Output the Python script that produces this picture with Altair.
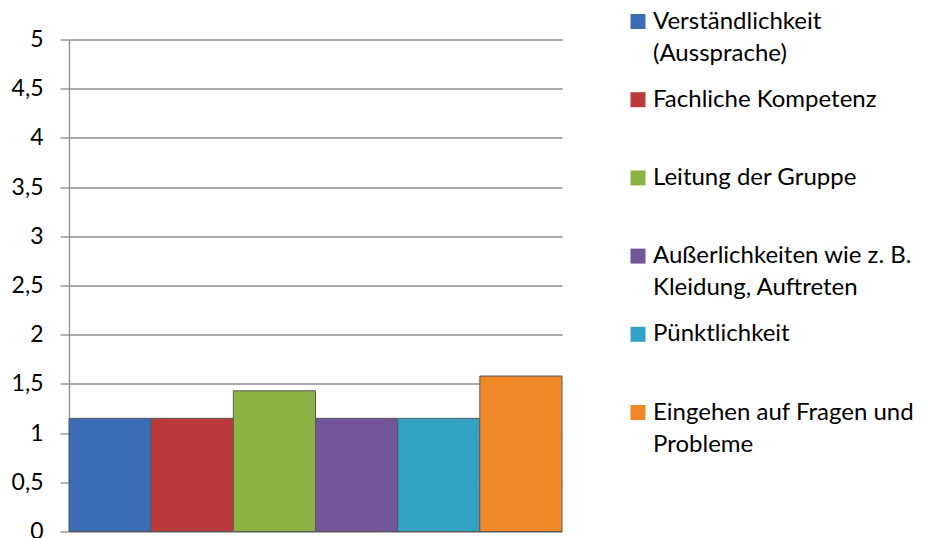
import altair as alt
import pandas as pd

categories = [
    "Verständlichkeit\n(Aussprache)",
    "Fachliche Kompetenz",
    "Leitung der Gruppe",
    "Außerlichkeiten wie z. B.\nKleidung, Auftreten",
    "Pünktlichkeit",
    "Eingehen auf Fragen und\nProbleme",
]
values = [1.15, 1.15, 1.43, 1.15, 1.15, 1.58]
colors = ["#3a6db3", "#bd3a3a", "#8db244", "#73559a", "#31a2c3", "#f08828"]
y_ticks = [0, 0.5, 1, 1.5, 2, 2.5, 3, 3.5, 4, 4.5, 5]

df = pd.DataFrame({"kategorie": categories, "wert": values})

FONT = "Lato"

# two text lines per entry so that every legend row has the same height
label_expr = (
    "length(split(datum.label, '\\n')) > 1 ? split(datum.label, '\\n') : [datum.label, '']"
)

chart = (
    alt.Chart(df)
    .mark_bar(strokeWidth=1)
    .encode(
        x=alt.X("kategorie:N", sort=categories, axis=None,
                scale=alt.Scale(paddingInner=0, paddingOuter=0)),
        y=alt.Y("wert:Q", title=None,
                scale=alt.Scale(domain=[0, 5], nice=False),
                axis=alt.Axis(values=y_ticks,
                              labelExpr="replace(format(datum.value, '.1~f'), '.', ',')",
                              labelFont=FONT, labelFontSize=23, labelColor="#000000",
                              labelPadding=17, tickSize=9, tickColor="#8c8c8c",
                              domainColor="#8c8c8c", gridColor="#8c8c8c",
                              gridWidth=1.3, domainWidth=1.3, tickWidth=1.3,
                              grid=True)),
        color=alt.Color("kategorie:N", sort=categories,
                        scale=alt.Scale(domain=categories, range=colors),
                        legend=alt.Legend(title=None, orient="none",
                                          legendX=557, legendY=-30,
                                          padding=0,
                                          symbolType="square", symbolSize=225,
                                          symbolStrokeWidth=0,
                                          labelExpr=label_expr,
                                          labelFont=FONT, labelFontSize=24,
                                          labelColor="#000000",
                                          labelBaseline="middle",
                                          labelLimit=400,
                                          labelOffset=3,
                                          rowPadding=22.2)),
        stroke=alt.value("#5a5a5a"),
    )
    .properties(
        width=493, height=492,
        padding={"left": 61, "top": 31.5, "right": 356, "bottom": 10},
        autosize=alt.AutoSizeParams(type="none"),
    )
    .configure(style={"guide-label": {"lineHeight": 32}})
    .configure_view(stroke=None)
)

chart.save("out.html", embed_options={"renderer": "svg", "actions": False})
